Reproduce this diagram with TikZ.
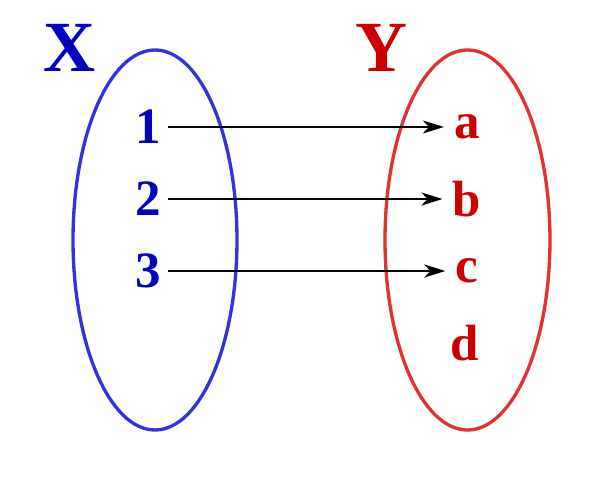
\documentclass[tikz,border=0pt]{standalone}
\usepackage{fontspec}
\setmainfont{Liberation Serif}
\usetikzlibrary{arrows.meta}
\definecolor{setblue}{RGB}{51,51,221}
\definecolor{eltblue}{RGB}{0,0,190}
\definecolor{setred}{RGB}{221,51,51}
\definecolor{eltred}{RGB}{204,0,0}
\tikzset{
  elt/.style={font=\fontsize{29}{31}\selectfont\bfseries, inner sep=0.2cm},
  setname/.style={font=\fontsize{41}{45}\selectfont\bfseries, inner sep=0pt},
  map/.style={-{Stealth[length=0.42cm, width=0.26cm, inset=0.12cm]}, line width=1.2pt}
}
\begin{document}
\begin{tikzpicture}[x=0.02cm,y=0.02cm]
\useasboundingbox (0,0) rectangle (600,480);
\draw[setblue, line width=1.9pt] (155,240) ellipse (82 and 190);
\draw[setred, line width=1.9pt] (467.5,240) ellipse (82.5 and 190);
\node[setname, eltblue] (X) at (70,432) {X};
\node[setname, eltred] (Y) at (382,432) {Y};
\node[elt, eltblue, inner xsep=0.14cm] (n1) at (148,353) {1};
\node[elt, eltblue, inner xsep=0.14cm] (n2) at (148,281) {2};
\node[elt, eltblue, inner xsep=0.14cm] (n3) at (148,209) {3};
\node[elt, eltred] (la) at (467,353) {a};
\node[elt, eltred] (lb) at (467,281) {b};
\node[elt, eltred] (lc) at (467,209) {c};
\node[elt, eltred] (ld) at (465,137) {d};
\draw[map] (n1) -- (la);
\draw[map] (n2) -- (lb);
\draw[map] (n3) -- (lc);
\end{tikzpicture}
\end{document}
